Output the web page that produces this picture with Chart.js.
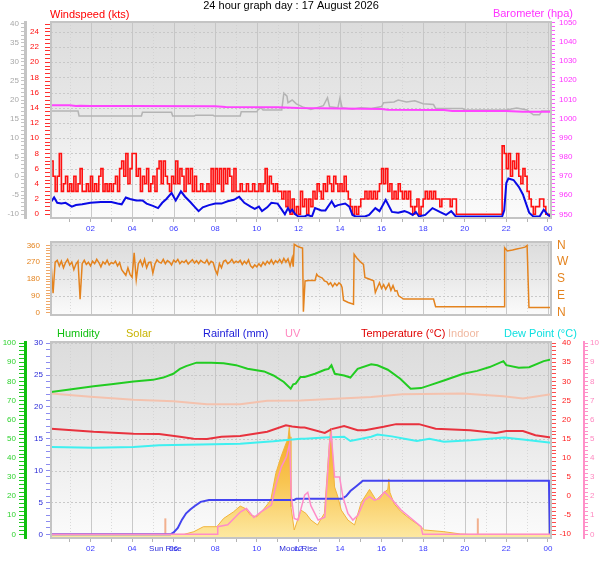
<!DOCTYPE html>
<html>
<head>
<meta charset="utf-8">
<script src="https://cdn.jsdelivr.net/npm/chart.js@4.4.1/dist/chart.umd.min.js"></script>
<style>
  body { margin: 0; background: #fff; }
  #wrap { position: relative; width: 608px; height: 561px; }
  canvas { position: absolute; left: 0; }
</style>
</head>
<body>
<div id="wrap">
  <canvas id="windChart" width="608" height="236" style="top:0"></canvas>
  <canvas id="dirChart" width="608" height="90" style="top:236px"></canvas>
  <canvas id="climateChart" width="608" height="235" style="top:326px"></canvas>
</div>
<script>
const FONT = "'Liberation Sans', Arial, sans-serif";

// ---------- data ----------
const graphTitle = '24 hour graph day : 17 August 2026';
const hourTicks = [1,2,3,4,5,6,7,8,9,10,11,12,13,14,15,16,17,18,19,20,21,22,23,24];

// wind gust (kts), one reading every 6 minutes from 00:06
const gustStart = 0.1, gustStep = 0.1;
const gustValues = [
  7,5,3,5,8,3,4,5,3,4,
  3,5,3,4,6,3,3,4,3,5,
  3,4,3,5,6,3,4,3,4,3,
  4,5,3,6,7,5,8,4,6,8,
  8,5,6,3,5,4,6,3,4,5,
  3,6,7,4,7,5,4,3,5,4,
  7,4,6,5,3,6,4,6,3,5,
  3,3,4,3,3,4,3,6,3,6,
  4,6,3,6,4,6,5,3,6,3,
  3,4,3,3,4,3,3,4,3,3,
  4,3,4,6,3,5,4,3,4,3,
  3,2,3,1,3,0,2,0,1,0,
  3,1,2,0,2,1,3,2,4,3,
  2,4,3,5,4,3,5,4,3,4,
  3,5,3,2,1,0,1,0,1,2,
  2,3,2,3,2,3,2,3,4,6,
  4,6,3,4,2,3,2,4,3,2,
  3,2,3,1,0,1,2,0,1,2,
  3,2,3,2,3,2,2,1,2,2,
  2,2,1,2,2,0,0,0,0,0,
  0,0,0,0,0,0,0,0,0,0,
  0,0,0,0,0,0,0,9,8,6,
  8,5,7,6,8,5,4,6,5,3,
  2,1,0,1,1,2,2,1,0,0,
  0
];

// average wind speed (kts)
const windAvgTimes = [
  0.1,0.25,0.4,0.6,0.8,1.1,1.3,1.6,2.0,2.5,
  3.0,3.3,3.5,3.7,3.9,4.2,4.5,4.7,5.0,5.25,
  5.45,5.65,5.9,6.1,6.35,6.55,6.8,7.0,7.2,7.4,
  7.7,8.0,8.3,8.6,8.9,9.15,9.4,9.7,9.9,10.1,
  10.25,10.5,10.7,11.0,11.2,11.35,11.5,11.6,11.7,11.85,
  12.0,12.3,12.45,12.65,12.8,13.1,13.3,13.6,13.75,13.9,
  14.25,14.45,14.6,14.75,15.2,15.4,15.7,15.9,16.2,16.5,
  16.8,17.1,17.3,17.5,17.65,17.8,18.1,18.45,18.8,19.1,
  19.35,19.57,21.8,21.9,22.0,22.1,22.35,22.6,22.8,22.95,
  23.1,23.3,23.6,23.8,24.0,24.15
];
const windAvgValues = [
  1.6,2.2,1.5,1.4,1.5,1.0,1.2,1.3,1.5,1.6,
  1.6,1.4,1.3,2.2,2.0,1.8,1.8,1.4,1.1,0.8,
  1.5,2.0,2.8,1.8,3.0,2.3,1.6,1.0,0.4,0.9,
  1.2,1.4,1.4,1.7,1.9,2.3,1.5,1.0,0.7,1.0,
  0.4,0.9,1.5,1.4,0.6,0.0,0.8,0.3,0.6,0.0,
  -0.3,-0.3,-0.1,-0.3,0.8,0.5,0.5,1.7,1.0,1.2,
  1.4,1.0,-0.1,-0.3,-0.3,-0.1,0.8,0.4,1.9,0.3,
  0.2,0.4,0.2,-0.1,0.3,-0.3,-0.1,0.8,0.3,-0.1,
  0.4,-0.3,-0.3,0.5,4.1,4.7,4.5,3.6,2.6,1.4,
  0.2,-0.3,-0.3,0.6,-0.1,-0.3
];

// barometer (hPa)
const baroTimes  = [0.1,1.0,1.3,1.5,2.0,4.0,8.0,8.5,11.0,12.0,14.0,16.0,16.3,19.0,19.4,22.0,22.8,24.15];
const baroValues = [1006.9,1006.9,1006.5,1006.7,1006.6,1006.5,1006.4,1006.1,1005.9,1005.5,1005.3,1005.0,1004.6,1004.5,1004.0,1004.0,1003.6,1003.6];

// grey trace on the outer left scale
const greyTimes = [
  0.1,1.4,1.45,4.45,4.5,5.9,5.95,7.0,7.05,7.9,
  7.95,9.2,9.25,10.0,10.05,10.2,10.3,11.2,11.3,11.45,
  11.5,11.7,11.9,12.2,12.6,12.9,13.2,13.4,13.5,13.9,
  14.0,14.1,14.6,15.0,15.5,16.0,16.1,16.6,16.8,17.2,
  17.6,18.0,18.5,18.6,19.9,20.0,22.0,22.5,23.0,23.3,
  23.6,23.7,24.15
];
const greyValues = [
  17.1,17.1,15.8,15.8,16.8,16.8,15.8,15.8,16.0,16.0,
  15.8,15.8,16.9,16.9,17.4,18.0,17.4,17.4,21.8,21.0,
  19.3,20.0,19.0,18.2,17.5,18.0,18.5,20.6,18.2,18.0,
  20.6,18.0,17.6,18.0,17.8,18.3,19.3,19.5,20.0,19.5,
  19.8,19.0,18.8,17.8,17.8,17.4,17.4,17.9,17.4,16.1,
  16.1,17.1,17.1
];

// wind direction (degrees): 6-minute readings from 00:06 to 11:42, then irregular
const dirStart = 0.1, dirStep = 0.1;
const dirNoisyValues = [
  264,105,270,280,250,275,240,268,285,255,
  270,230,260,275,72,262,280,258,270,250,
  275,262,285,268,245,272,260,280,255,268,
  262,275,250,268,230,215,200,240,205,190,
  320,176,262,280,250,285,240,268,270,212,
  260,282,270,265,285,262,278,270,255,280,
  270,285,262,275,268,280,260,272,283,265,
  278,262,280,270,265,282,258,275,268,230,
  205,262,240,275,280,262,270,285,265,275,
  268,280,258,275,262,282,250,240,255,245,
  262,248,270,255,275,262,282,260,278,268,
  285,265,290,270,288,250,292
];
const dirTimes = [
  11.75,11.8,11.95,12.1,12.2,12.24,12.32,12.5,12.8,12.88,
  12.95,13.05,13.15,13.25,13.37,13.45,13.55,13.65,13.75,13.85,
  13.95,14.05,14.1,14.17,14.4,14.65,14.68,14.8,15.0,15.13,
  15.2,15.4,15.62,15.7,15.8,15.9,16.0,16.1,16.2,16.35,
  16.45,16.55,16.65,16.74,16.82,17.06,18.5,18.6,21.9,21.92,
  22.05,22.3,22.5,22.7,22.9,23.0,23.09,24.15
];
const dirValues = [
  246,365,355,348,345,5,170,172,172,206,
  195,190,185,170,165,150,160,140,158,145,
  160,150,135,67,55,46,312,294,270,258,
  188,180,170,108,135,160,130,150,125,155,
  120,145,115,118,90,73,73,32,32,347,
  330,335,340,345,350,359,28,28
];
const compassLabels = ['N', 'E', 'S', 'W', 'N'];

// humidity (%)
const humTimes = [
  0.1,1.0,2.15,3.0,4.07,5.0,5.5,5.98,6.3,6.6,
  7.1,7.8,8.4,9.0,9.55,10.35,10.8,11.3,11.63,11.75,
  11.87,12.1,12.3,12.8,13.27,13.45,13.59,13.75,14.2,14.5,
  14.85,15.5,15.8,16.3,16.9,17.4,17.9,18.3,19.0,19.93,
  20.6,21.2,21.86,22.0,22.6,23.1,23.8,24.15
];
const humValues = [
  74.4,75.8,77.4,78.5,80.0,80.8,82.0,84.0,86.5,88.0,
  89.8,89.8,89.5,88.5,86.6,85.2,83.1,79.7,76.2,78.5,
  78.8,82.3,82.3,84.0,86.1,86.5,88.4,84.0,83.1,82.0,
  86.6,88.9,88.4,86.1,81.4,76.2,76.5,77.9,80.5,84.0,
  85.5,87.5,90.6,88.5,87.1,87.4,90.6,91.5
];

// indoor temperature (°C)
const indoorTimes  = [0.1,2.0,4.07,6.0,7.6,9.2,10.5,12.1,13.3,15.5,17.0,19.9,21.86,22.8,24.15];
const indoorValues = [26.8,26.0,25.2,24.8,24.0,24.0,24.9,25.0,25.3,25.9,26.6,26.8,26.1,25.5,26.6];

// outdoor temperature (°C)
const tempTimes = [
  0.1,2.15,4.07,5.3,6.3,6.96,7.6,8.3,9.2,10.5,
  11.4,11.7,12.1,12.3,13.27,13.6,14.2,14.85,15.2,16.1,
  16.7,17.8,18.6,20.26,21.5,22.0,22.8,23.4,24.15
];
const tempValues = [
  17.6,16.8,16.3,16.2,15.5,15.0,14.9,15.5,15.7,16.8,
  18.5,18.2,17.9,17.9,16.5,17.5,18.3,17.2,17.2,18.1,
  18.8,18.8,17.6,17.2,16.5,17.0,17.0,15.9,15.3
];

// dew point (°C)
const dewTimes  = [0.1,2.15,4.07,5.3,7.3,9.2,10.8,12.1,12.3,13.27,14.2,14.5,15.5,15.8,16.5,17.1,17.7,18.3,19.0,20.3,21.9,22.8,24.15];
const dewValues = [12.8,12.6,12.8,13.3,13.5,13.7,14.3,15.0,15.0,15.3,15.5,14.4,15.5,16.1,15.6,15.0,14.4,15.0,14.2,14.6,15.3,14.8,13.9];

// rainfall (mm, daily total)
const rainTimes  = [0.1,5.85,6.0,6.2,6.4,6.6,6.8,7.0,7.3,7.7,11.8,11.9,14.1,14.3,14.5,14.8,15.1,24.05,24.1];
const rainValues = [0,0,0.3,1.0,2.3,3.3,3.9,4.4,5.1,5.4,5.4,5.6,5.6,6.0,6.8,7.6,8.4,8.4,0];

// UV index
const uvTimes = [
  0.1,8.1,8.12,8.6,9.22,9.5,9.86,10.2,10.7,10.94,
  11.18,11.42,11.58,11.66,11.8,11.98,12.3,12.45,12.6,12.95,
  13.27,13.5,13.58,13.74,13.98,14.14,14.38,14.62,14.86,15.18,
  15.42,15.66,15.9,16.14,16.46,16.94,17.43,17.9,17.98,24.15
];
const uvValues = [
  0,0,0.4,0.5,1.18,1.35,0.88,1.18,1.53,2.66,
  3.53,4.05,4.75,1.96,0.83,0.75,2.05,2.2,1.5,0.75,
  0.9,4.75,5.27,3.0,3.0,1.96,1.1,0.75,1.0,1.79,
  1.97,1.79,1.88,2.22,1.88,1.27,0.83,0.4,0,0
];

// solar radiation (W/m²)
const solarTimes = [
  0.1,6.5,6.97,7.43,8.08,8.4,8.88,9.2,9.45,9.7,
  10.0,10.35,10.67,10.91,11.16,11.4,11.5,11.56,11.6,11.64,
  11.8,12.12,12.36,12.6,12.92,13.25,13.5,13.55,13.58,13.74,
  13.9,14.06,14.38,14.7,15.02,15.42,15.74,16.06,16.3,16.35,
  16.4,16.62,16.94,17.34,17.9,18.06,19.0,19.8,20.2,24.15
];
const solarValues = [
  0,0,14,40,40,83,118,148,135,100,
  92,135,179,318,405,475,500,560,510,144,
  23,127,110,75,49,110,492,555,535,248,
  196,127,75,49,166,235,179,214,235,290,
  220,157,118,83,40,23,14,2,0,0
];

// sun rise / sun set markers (hours) and moon rise
const sunMarkTimes = [5.6, 20.63];
const sunRiseTime = 5.6;
const moonRiseTime = 12.0;

// ---------- helpers ----------
function pairs(times, values) {
  return times.map((t, i) => ({ x: t, y: values[i] }));
}
function regular(start, step, values) {
  return values.map((v, i) => ({ x: +(start + i * step).toFixed(2), y: v }));
}
function steps(from, to, step) {
  const out = [];
  for (let v = from; v <= to + 1e-9; v += step) out.push(+v.toFixed(2));
  return out;
}
function hourLabel(v) {
  return v % 2 === 0 ? String(v % 24).padStart(2, '0') : '';
}

function timeAxis(showLabels, height) {
  return {
    type: 'linear', position: 'bottom', min: 0.1, max: 24.15,
    display: showLabels,
    afterBuildTicks: s => { s.ticks = hourTicks.map(v => ({ value: v })); },
    afterFit: s => { s.height = height; },
    ticks: {
      autoSkip: false, maxRotation: 0, padding: 2,
      color: '#3a3aff', font: { size: 8, family: FONT },
      callback: v => hourLabel(v)
    },
    grid: { drawOnChartArea: false, drawTicks: true, tickLength: 4, tickColor: '#b4b4b4' },
    border: { display: false }
  };
}

function sideAxis(o) {
  return {
    type: 'linear', position: o.position, weight: o.weight || 0,
    min: o.min, max: o.max,
    afterBuildTicks: s => { s.ticks = o.minor.map(v => ({ value: v })); },
    afterFit: s => { s.width = o.width; },
    ticks: { display: false, autoSkip: false },
    grid: { drawOnChartArea: false, drawTicks: true, tickLength: o.tickLength, tickColor: o.tickColor, tickWidth: 1 },
    border: o.border ? { display: true, color: o.border, width: o.borderWidth || 2 } : { display: false }
  };
}

function panelPlugin(cfg) {
  return {
    id: 'panel',
    beforeDraw(chart) {
      const { ctx, chartArea: a, scales } = chart;
      ctx.save();
      const g = ctx.createLinearGradient(0, a.top, 0, a.bottom);
      g.addColorStop(0, '#dcdcdc');
      g.addColorStop(0.4, '#e6e6e6');
      g.addColorStop(0.7, '#f1f1f1');
      g.addColorStop(1, '#fbfbfb');
      ctx.fillStyle = g;
      ctx.fillRect(a.left, a.top, a.right - a.left, a.bottom - a.top);
      ctx.lineWidth = 1;
      hourTicks.forEach(h => {
        const x = Math.round(scales.x.getPixelForValue(h)) + 0.5;
        ctx.strokeStyle = h % 2 ? 'rgba(205,205,205,0.7)' : 'rgba(195,195,195,0.9)';
        ctx.setLineDash(h % 2 ? [1, 2] : []);
        ctx.beginPath(); ctx.moveTo(x, a.top); ctx.lineTo(x, a.bottom); ctx.stroke();
      });
      (cfg.hLines || []).forEach(spec => {
        ctx.strokeStyle = spec.color || 'rgba(196,196,196,0.9)';
        ctx.setLineDash([2, 2]);
        spec.values.forEach(v => {
          const y = Math.round(scales[spec.scale].getPixelForValue(v)) + 0.5;
          ctx.beginPath(); ctx.moveTo(a.left, y); ctx.lineTo(a.right, y); ctx.stroke();
        });
      });
      ctx.restore();
    },
    afterDraw(chart) {
      const { ctx, chartArea: a, scales } = chart;
      ctx.save();
      ctx.strokeStyle = '#c4c4c4';
      ctx.lineWidth = 2;
      ctx.setLineDash([]);
      ctx.strokeRect(a.left, a.top, a.right - a.left, a.bottom - a.top);
      ctx.textBaseline = 'middle';
      (cfg.axisLabels || []).forEach(spec => {
        ctx.fillStyle = spec.color;
        ctx.font = spec.font || ('8px ' + FONT);
        ctx.textAlign = spec.align;
        spec.values.forEach((v, i) => {
          const y = scales[spec.scale].getPixelForValue(v);
          ctx.fillText(spec.text ? spec.text[i] : String(v), spec.x, y);
        });
      });
      (cfg.texts || []).forEach(t => {
        ctx.fillStyle = t.color;
        ctx.font = t.font;
        ctx.textAlign = t.align || 'left';
        const x = t.time !== undefined ? scales.x.getPixelForValue(t.time) : t.x;
        ctx.fillText(t.text, x, t.y);
      });
      ctx.restore();
    }
  };
}

const baseOptions = {
  responsive: false,
  animation: false,
  events: [],
  plugins: { legend: { display: false }, tooltip: { enabled: false } },
  elements: { point: { radius: 0 }, line: { tension: 0 } }
};

function line(data, color, width, yAxisID, extra) {
  return Object.assign({ data, borderColor: color, borderWidth: width, yAxisID, fill: false }, extra || {});
}

// ---------- wind / barometer ----------
new Chart(document.getElementById('windChart'), {
  type: 'line',
  data: {
    datasets: [
      line(pairs(windAvgTimes, windAvgValues), '#0a0ae6', 2, 'yWind'),
      line(regular(gustStart, gustStep, gustValues), '#ff1010', 1.6, 'yWind', { stepped: true }),
      line(pairs(baroTimes, baroValues), '#ff44ff', 2, 'yBaro'),
      line(pairs(greyTimes, greyValues), '#b4b4b4', 1.5, 'yGrey')
    ]
  },
  options: {
    ...baseOptions,
    layout: { padding: { top: 22, left: 0, right: 0, bottom: 0 } },
    scales: {
      x: timeAxis(true, 18),
      yGrey: sideAxis({ position: 'left', weight: 1, width: 25, min: -11, max: 40.5,
        minor: steps(-10, 40, 1), tickLength: 4, tickColor: '#c4c4c4', border: '#c4c4c4', borderWidth: 3 }),
      yWind: sideAxis({ position: 'left', weight: 0, width: 26, min: -0.5, max: 25.3,
        minor: steps(0, 25, 0.5), tickLength: 6, tickColor: '#ff3030' }),
      yBaro: sideAxis({ position: 'right', width: 57, min: 948.1, max: 1050.4,
        minor: steps(950, 1050, 2), tickLength: 4, tickColor: '#ff55ff' })
    }
  },
  plugins: [panelPlugin({
    hLines: [{ scale: 'yWind', values: steps(2, 24, 2) }],
    axisLabels: [
      { scale: 'yGrey', values: steps(-10, 40, 5), x: 19, align: 'right', color: '#a8a8a8' },
      { scale: 'yWind', values: steps(0, 24, 2), x: 39, align: 'right', color: '#ff1010' },
      { scale: 'yBaro', values: steps(950, 1050, 10), x: 559, align: 'left', color: '#ff33ff' }
    ],
    texts: [
      { text: graphTitle, x: 291, y: 6, color: '#000', font: '11px ' + FONT, align: 'center' },
      { text: 'Windspeed (kts)', x: 50, y: 15, color: '#ff0000', font: '11px ' + FONT },
      { text: 'Barometer (hpa)', x: 573, y: 14, color: '#ff33ff', font: '11px ' + FONT, align: 'right' }
    ]
  })]
});

// ---------- wind direction ----------
new Chart(document.getElementById('dirChart'), {
  type: 'line',
  data: {
    datasets: [
      line(regular(dirStart, dirStep, dirNoisyValues).concat(pairs(dirTimes, dirValues)), '#e4831e', 1.5, 'yDir')
    ]
  },
  options: {
    ...baseOptions,
    layout: { padding: { top: 6, left: 0, right: 57, bottom: 11 } },
    scales: {
      x: timeAxis(false, 0),
      yDir: sideAxis({ position: 'left', width: 51, min: -12, max: 377.6,
        minor: steps(0, 360, 15), tickLength: 5, tickColor: '#f0a868' })
    }
  },
  plugins: [panelPlugin({
    hLines: [{ scale: 'yDir', values: [90, 180, 270, 360] }],
    axisLabels: [
      { scale: 'yDir', values: [0, 90, 180, 270, 360], x: 40, align: 'right', color: '#e4831e' },
      { scale: 'yDir', values: [0, 90, 180, 270, 360], text: compassLabels, x: 557, align: 'left',
        color: '#e4831e', font: '12px ' + FONT }
    ]
  })]
});

// ---------- humidity / solar / rain / UV / temperature ----------
const solarFill = ctx => {
  const area = ctx.chart.chartArea;
  if (!area) return '#f8c850';
  const g = ctx.chart.ctx.createLinearGradient(0, area.top + 85, 0, area.bottom);
  g.addColorStop(0, '#f5a623');
  g.addColorStop(0.5, '#f8c552');
  g.addColorStop(1, '#fde9a2');
  return g;
};

const sunMarks = sunMarkTimes.map(t =>
  line([{ x: t, y: 0 }, { x: t, y: 2.5 }], '#f2b08e', 2, 'yRain'));

new Chart(document.getElementById('climateChart'), {
  type: 'line',
  data: {
    datasets: [
      line(pairs(uvTimes, uvValues), '#ff8cc8', 1.5, 'yUV'),
      line(pairs(rainTimes, rainValues), '#4444f0', 2, 'yRain'),
      line(pairs(humTimes, humValues), '#22cc22', 2, 'yHum'),
      line(pairs(tempTimes, tempValues), '#e8323e', 2, 'yTemp'),
      line(pairs(dewTimes, dewValues), '#3ff0f0', 2, 'yTemp'),
      line(pairs(indoorTimes, indoorValues), '#f4c2ae', 2, 'yTemp'),
      ...sunMarks,
      line(pairs(solarTimes, solarValues), '#f2b43a', 1, 'ySolar', { fill: 'start', backgroundColor: solarFill })
    ]
  },
  options: {
    ...baseOptions,
    layout: { padding: { top: 16, left: 0, right: 0, bottom: 0 } },
    scales: {
      x: timeAxis(true, 23),
      yHum: sideAxis({ position: 'left', weight: 1, width: 25, min: -1.9, max: 100.6,
        minor: steps(0, 100, 2), tickLength: 6, tickColor: '#1cc81c', border: '#10c010', borderWidth: 3 }),
      yRain: sideAxis({ position: 'left', weight: 0, width: 26, min: -0.58, max: 30.2,
        minor: steps(0, 30, 1), tickLength: 5, tickColor: '#8c8cf0' }),
      yTemp: sideAxis({ position: 'right', weight: 0, width: 33, min: -11, max: 40.3,
        minor: steps(-10, 40, 1), tickLength: 5, tickColor: '#ff4a4a' }),
      yUV: sideAxis({ position: 'right', weight: 1, width: 24, min: -0.19, max: 10.06,
        minor: steps(0, 10, 0.2), tickLength: 4, tickColor: '#ff90c8', border: '#ff90c8', borderWidth: 2 }),
      ySolar: { type: 'linear', display: false, min: -19, max: 1006 }
    }
  },
  plugins: [panelPlugin({
    hLines: [{ scale: 'yRain', values: steps(5, 30, 5) }],
    axisLabels: [
      { scale: 'yHum', values: steps(0, 100, 10), x: 16, align: 'right', color: '#2ed22e' },
      { scale: 'yRain', values: steps(0, 30, 5), x: 43, align: 'right', color: '#2a2ad8' },
      { scale: 'yTemp', values: steps(-10, 40, 5), x: 571, align: 'right', color: '#ff2020' },
      { scale: 'yUV', values: steps(0, 10, 1), x: 590, align: 'left', color: '#ff88c0' }
    ],
    texts: [
      { text: 'Humidity', x: 57, y: 8, color: '#10c010', font: '11px ' + FONT },
      { text: 'Solar', x: 126, y: 8, color: '#c8b400', font: '11px ' + FONT },
      { text: 'Rainfall (mm)', x: 203, y: 8, color: '#1c1cd8', font: '11px ' + FONT },
      { text: 'UV', x: 285, y: 8, color: '#ff88c0', font: '11px ' + FONT },
      { text: 'Temperature (°C)', x: 361, y: 8, color: '#e00000', font: '11px ' + FONT },
      { text: 'Indoor', x: 448, y: 8, color: '#f0b8a0', font: '11px ' + FONT },
      { text: 'Dew Point (°C)', x: 504, y: 8, color: '#10e0e0', font: '11px ' + FONT },
      { text: 'Sun Rise', time: sunRiseTime, y: 223, color: '#2a2ad8', font: '8px ' + FONT, align: 'center' },
      { text: 'Moon Rise', time: moonRiseTime, y: 223, color: '#2a2ad8', font: '8px ' + FONT, align: 'center' }
    ]
  })]
});
</script>
</body>
</html>
